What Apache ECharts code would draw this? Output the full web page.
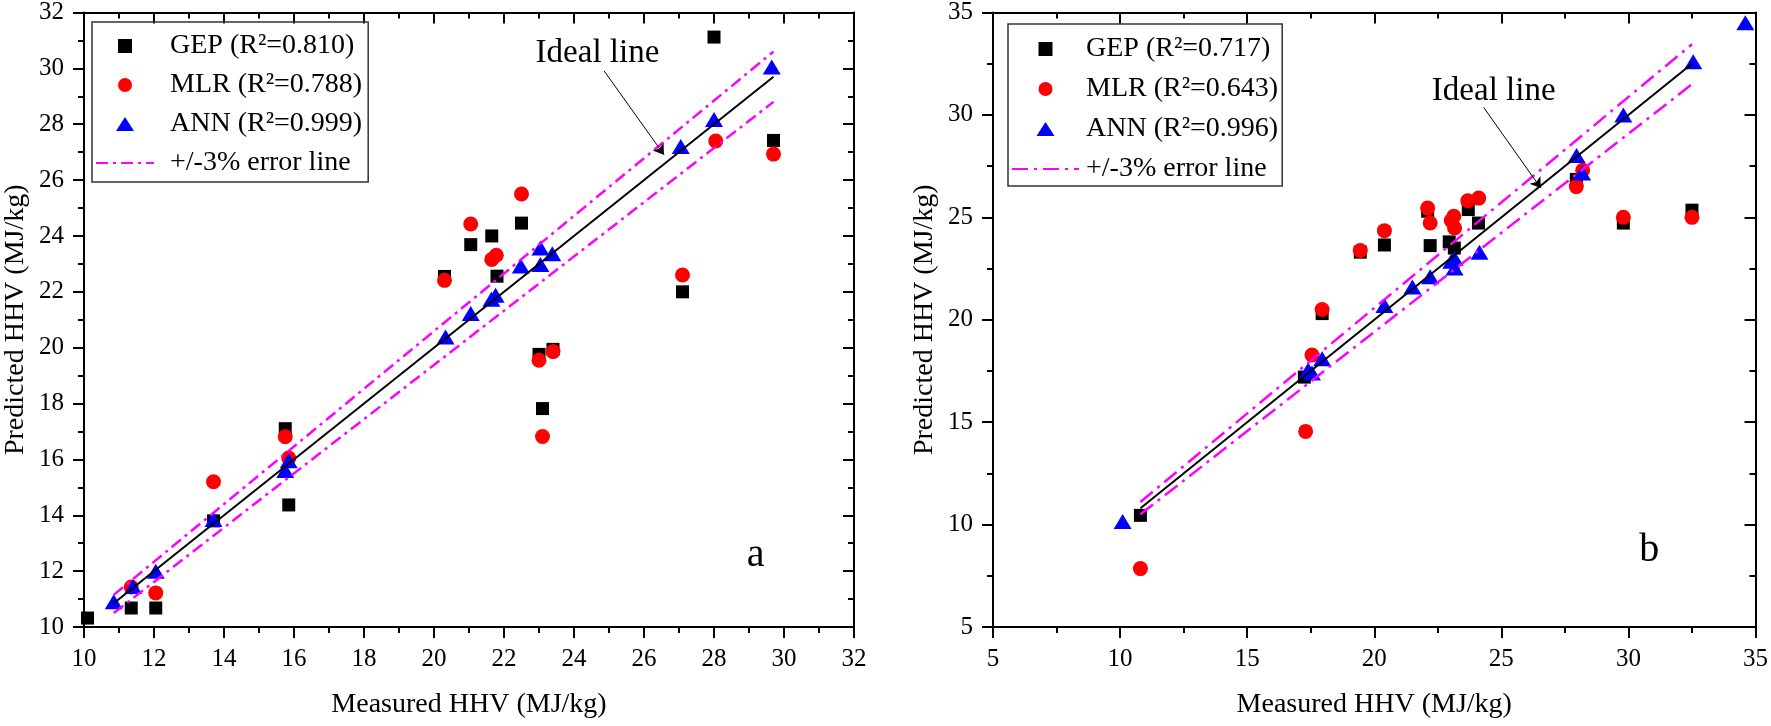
<!DOCTYPE html>
<html lang="en">
<head>
<meta charset="UTF-8">
<title>Measured vs predicted HHV</title>
<script src="https://cdn.jsdelivr.net/npm/echarts@6/dist/echarts.min.js"></script>
<style>
    html, body { margin: 0; padding: 0; background: #fff; }
    #chart { width: 1771px; height: 726px; }
</style>
</head>
<body>
<div id="chart"></div>
<script>
    // ---- panel a ----
    const namesA = ['GEP (R²=0.810)', 'MLR (R²=0.788)', 'ANN (R²=0.999)', '+/-3% error line'];
    const gepA = [[10.1, 10.32], [11.35, 10.68], [12.05, 10.68], [13.7, 13.8], [15.75, 17.1], [15.85, 14.37],
        [20.3, 22.55], [21.05, 23.69], [21.65, 24.0], [21.8, 22.56], [22.5, 24.46], [23.0, 19.76],
        [23.1, 17.82], [23.4, 19.94], [27.1, 22.0], [28.0, 31.12], [29.7, 27.42]];
    const mlrA = [[11.35, 11.43], [12.05, 11.22], [13.7, 15.2], [15.75, 16.81], [15.85, 16.05], [20.3, 22.41],
        [21.05, 24.43], [21.65, 23.16], [21.78, 23.31], [22.5, 25.5], [23.0, 19.55], [23.1, 16.82],
        [23.4, 19.86], [27.1, 22.6], [28.05, 27.4], [29.7, 26.93]];
    const annA = [[10.85, 10.9], [11.4, 11.45], [12.05, 12.0], [13.7, 13.85], [15.75, 15.6], [15.85, 15.95],
        [20.33, 20.38], [21.05, 21.22], [21.64, 21.73], [21.76, 21.88], [22.48, 22.92], [23.04, 22.98],
        [23.04, 23.57], [23.38, 23.36], [27.05, 27.2], [28.0, 28.17], [29.65, 30.05]];
    const idealA = [[10.85, 10.85], [29.7, 29.7]];
    const upperA = [[10.85, 11.15], [29.7, 30.6]];
    const lowerA = [[10.85, 10.5], [29.7, 28.8]];
    const arrowA = [[24.86, 29.91], [26.57, 26.91]];
    const noteA = [24.67, 30.54];
    const tagA = [29.19, 12.56];

    // ---- panel b ----
    const namesB = ['GEP (R²=0.717)', 'MLR (R²=0.643)', 'ANN (R²=0.996)', '+/-3% error line '];
    const gepB = [[10.8, 10.45], [17.25, 17.2], [17.95, 20.3], [19.45, 23.3], [20.4, 23.65], [22.1, 25.3],
        [22.2, 23.62], [22.95, 23.8], [23.15, 23.5], [23.7, 25.38], [24.1, 24.72], [27.95, 26.85],
        [29.8, 24.72], [32.5, 25.35]];
    const mlrB = [[10.8, 7.85], [17.3, 14.55], [17.55, 18.28], [17.95, 20.5], [19.45, 23.38], [20.4, 24.35],
        [22.1, 25.45], [22.2, 24.72], [23.03, 24.84], [23.13, 25.05], [23.16, 24.48], [23.68, 25.81],
        [24.11, 25.94], [27.95, 26.5], [28.2, 27.3], [29.8, 25.0], [32.5, 25.0]];
    const annB = [[10.1, 10.15], [17.4, 17.55], [17.55, 17.4], [17.95, 18.1], [20.4, 20.7], [21.5, 21.6],
        [22.2, 22.1], [23.03, 22.86], [23.16, 22.53], [23.16, 23.0], [24.14, 23.3], [27.96, 28.02],
        [28.18, 27.16], [29.8, 30.0], [32.55, 32.6], [34.6, 34.5]];
    const idealB = [[10.8, 10.8], [32.5, 32.5]];
    const upperB = [[10.8, 11.1], [32.5, 33.45]];
    const lowerB = [[10.8, 10.5], [32.5, 31.5]];
    const arrowB = [[24.31, 30.36], [26.55, 26.43]];
    const noteB = [24.7, 31.14];
    const tagB = [30.82, 8.73];

    const FONT = 'Liberation Serif';
    const black = '#000';
    // legend icons as paths so they keep their shape in a wide icon box
    const squareIcon = 'path://M0,0L10,0L10,10L0,10Z';
    const triIcon = 'path://M9,0L18,14L0,14Z';

    // one axis; pos = bottom/top/left/right
    function makeAxis(grid, pos, min, max, step, title) {
        let inner = (pos === 'top' || pos === 'right');
        let ax = {
            gridIndex: grid,
            type: 'value',
            position: pos,
            min: min,
            max: max,
            interval: step,
            axisLine: { onZero: false, lineStyle: { color: black, width: 2 } },
            axisTick: { show: true, inside: inner, length: 11, lineStyle: { color: black, width: 2 } },
            minorTick: { show: true, splitNumber: 2, length: 6, lineStyle: { color: black, width: 2 } },
            splitLine: { show: false },
            axisLabel: { show: !inner, fontFamily: FONT, fontSize: 25, color: black, margin: 20 }
        };
        if (title) {
            ax.name = title;
            ax.nameLocation = 'middle';
            ax.nameGap = (pos === 'bottom') ? 64 : 54;
            ax.nameTextStyle = { fontFamily: FONT, fontSize: 28, color: black };
        }
        return ax;
    }

    function makeLegend(names, left, top, iconW, gap, pad, textPad) {
        return {
            data: [
                { name: names[0], icon: squareIcon },
                { name: names[1], icon: 'circle' },
                { name: names[2], icon: triIcon },
                { name: names[3] }
            ],
            orient: 'vertical',
            left: left,
            top: top,
            itemWidth: iconW,
            itemHeight: 14,
            itemGap: gap,
            padding: pad,
            symbolKeepAspect: true,
            borderColor: '#333',
            borderWidth: 1.5,
            selectedMode: false,
            textStyle: { fontFamily: FONT, fontSize: 28, color: black, lineHeight: 30, padding: [0, 0, 0, textPad] }
        };
    }

    function panelSeries(idx, names, gep, mlr, ann, ideal, upper, lower, dash, arrow, note, tag, tagName) {
        let errStyle = { color: '#ff00ff', width: 2.5, type: dash };
        let ax = idx * 2;
        return [
            { type: 'scatter', name: names[0], xAxisIndex: ax, yAxisIndex: ax, data: gep,
              symbol: 'rect', symbolSize: 13, itemStyle: { color: black, opacity: 1 } },
            { type: 'scatter', name: names[1], xAxisIndex: ax, yAxisIndex: ax, data: mlr,
              symbol: 'circle', symbolSize: 15, itemStyle: { color: '#ff0000', opacity: 1 } },
            { type: 'scatter', name: names[2], xAxisIndex: ax, yAxisIndex: ax, data: ann,
              symbol: 'triangle', symbolSize: [18, 15], itemStyle: { color: '#0000ff', opacity: 1 } },
            { type: 'line', name: names[3], xAxisIndex: ax, yAxisIndex: ax, data: upper,
              symbol: 'none', lineStyle: errStyle, itemStyle: { color: 'rgba(0,0,0,0)' }, silent: true },
            { type: 'line', name: names[3], xAxisIndex: ax, yAxisIndex: ax, data: lower,
              symbol: 'none', lineStyle: errStyle, itemStyle: { color: 'rgba(0,0,0,0)' }, silent: true },
            {
                type: 'line', name: 'ideal' + idx, xAxisIndex: ax, yAxisIndex: ax, data: ideal,
                symbol: 'none', lineStyle: { color: black, width: 2 }, silent: true,
                markLine: {
                    silent: true,
                    symbol: ['none', 'arrow'],
                    symbolSize: 10,
                    lineStyle: { color: black, width: 1, type: 'solid' },
                    label: { show: false },
                    data: [[{ coord: arrow[0] }, { coord: arrow[1] }]]
                },
                markPoint: {
                    silent: true,
                    symbol: 'circle',
                    symbolSize: 0,
                    label: { show: true, position: 'inside', formatter: '{b}', fontFamily: FONT, fontSize: 33, color: black },
                    data: [
                        { name: 'Ideal line', coord: note },
                        { name: tagName, coord: tag, label: { fontSize: 40 } }
                    ]
                }
            }
        ];
    }

    let chart = echarts.init(document.getElementById('chart'), null, { renderer: 'canvas' });

    let option = {
        animation: false,
        backgroundColor: '#fff',
        textStyle: { fontFamily: FONT },
        grid: [
            { left: 84, top: 11, width: 770, height: 616 },
            { left: 993, top: 11, width: 767, height: 616 }
        ],
        legend: [
            makeLegend(namesA, 92, 22, 58, 9, [9, 6, 4, 3], 11),
            makeLegend(namesB, 1008, 24, 67, 10, [10, 4, 2, 3], 2)
        ],
        xAxis: [
            makeAxis(0, 'bottom', 10, 32, 2, 'Measured HHV (MJ/kg)'),
            makeAxis(0, 'top', 10, 32, 2),
            makeAxis(1, 'bottom', 5, 35, 5, 'Measured HHV (MJ/kg)'),
            makeAxis(1, 'top', 5, 35, 5)
        ],
        yAxis: [
            makeAxis(0, 'left', 10, 32, 2, 'Predicted HHV (MJ/kg)'),
            makeAxis(0, 'right', 10, 32, 2),
            makeAxis(1, 'left', 5, 35, 5, 'Predicted HHV (MJ/kg)'),
            makeAxis(1, 'right', 5, 35, 5)
        ],
        series: [].concat(
            panelSeries(0, namesA, gepA, mlrA, annA, idealA, upperA, lowerA, [12, 5, 3, 5], arrowA, noteA, tagA, 'a'),
            panelSeries(1, namesB, gepB, mlrB, annB, idealB, upperB, lowerB, [16, 6, 3, 6], arrowB, noteB, tagB, 'b')
        )
    };

    chart.setOption(option);
</script>
</body>
</html>
